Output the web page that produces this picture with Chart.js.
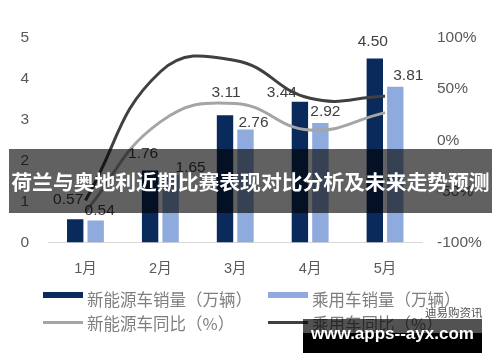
<!DOCTYPE html>
<html>
<head>
<meta charset="utf-8">
<script src="https://cdn.jsdelivr.net/npm/chart.js@4/dist/chart.umd.min.js"></script>
<style>
  html, body { margin: 0; padding: 0; background: #fff; }
  #wrap { position: relative; width: 500px; height: 362px; overflow: hidden; font-family: 'Noto Sans CJK SC', sans-serif; }
  #chart { position: absolute; left: 0; top: 0; }
  .lg { position: absolute; color: #7f7f7f; font-size: 16.5px; line-height: 18px; white-space: nowrap; }
  .mk { position: absolute; }
  #banner { position: absolute; left: 9px; top: 149px; width: 483px; height: 64px; background: rgba(0,0,0,0.62);
            color: #fff; font-weight: bold; font-size: 20.8px; line-height: 64px; text-align: center; white-space: nowrap; }
  #wm1 { position: absolute; left: 303px; top: 319px; width: 179px; height: 14px; background: rgba(0,0,0,0.68); }
  #wm2 { position: absolute; left: 303px; top: 333px; width: 179px; height: 20px; background: #000; }
  #wmt { position: absolute; left: 303px; top: 324px; width: 179px; text-align: center; color: #fff;
         font: bold 17px 'Liberation Sans', sans-serif; line-height: 20px; }
  #src { position: absolute; left: 425px; top: 306px; color: #555; font-size: 11.5px; line-height: 13px; }
</style>
</head>
<body>
<div id="wrap">
  <canvas id="chart" width="500" height="362"></canvas>

  <div class="mk" style="left:43px;top:292px;width:40px;height:6px;background:#0b2a5c"></div>
  <div class="lg" style="left:87px;top:290px">新能源车销量（万辆）</div>
  <div class="mk" style="left:268px;top:292px;width:40px;height:6px;background:#8faadc"></div>
  <div class="lg" style="left:312px;top:290px">乘用车销量（万辆）</div>
  <div class="mk" style="left:43px;top:321px;width:40px;height:3px;background:#a5a5a5"></div>
  <div class="lg" style="left:87px;top:314px">新能源车同比（%）</div>
  <div class="mk" style="left:268px;top:321px;width:40px;height:3px;background:#404040"></div>
  <div class="lg" style="left:312px;top:314px">乘用车同比（%）</div>

  <div id="src">迪易购资讯</div>
  <div id="wm1"></div>
  <div id="wm2"></div>
  <div id="wmt">www.apps--ayx.com</div>

  <div id="banner">荷兰与奥地利近期比赛表现对比分析及未来走势预测</div>
</div>
<script>
// data
const months = ['1月', '2月', '3月', '4月', '5月'];
const nevSales = [0.57, 1.76, 3.11, 3.44, 4.50];
const carSales = [0.54, 1.65, 2.76, 2.92, 3.81];
const nevYoY = [-70, 18, 36, 10, 27];
const carYoY = [-59, 67, 78, 41, 43];

// label nudges (px) so labels sit where the original put them
const nevLabelShift = [[-7, -19], [-7, -17], [1, -23], [-18, -9], [-2, -17]];
const carLabelShift = [[4, -10], [20, -7], [8, -7], [5, -11], [13, -11]];

Chart.defaults.font.family = "'Liberation Sans', 'Noto Sans CJK SC', sans-serif";
Chart.defaults.color = '#595959';

const barLabels = {
  id: 'barLabels',
  afterDatasetsDraw(chart) {
    const ctx = chart.ctx;
    ctx.save();
    ctx.font = "15.5px 'Liberation Sans', sans-serif";
    ctx.fillStyle = '#404040';
    ctx.textAlign = 'center';
    ctx.textBaseline = 'middle';
    [[2, nevSales, nevLabelShift], [3, carSales, carLabelShift]].forEach(([idx, vals, shift]) => {
      chart.getDatasetMeta(idx).data.forEach((bar, i) => {
        ctx.fillText(vals[i].toFixed(2), bar.x + shift[i][0], bar.y + shift[i][1]);
      });
    });
    ctx.restore();
  }
};

new Chart(document.getElementById('chart'), {
  type: 'bar',
  data: {
    labels: months,
    datasets: [
      { type: 'line', label: '乘用车同比（%）', data: carYoY, yAxisID: 'y1', borderColor: '#404040',
        borderWidth: 3, pointRadius: 0, tension: 0.45, fill: false, order: 0 },
      { type: 'line', label: '新能源车同比（%）', data: nevYoY, yAxisID: 'y1', borderColor: '#a5a5a5',
        borderWidth: 3, pointRadius: 0, tension: 0.45, fill: false, order: 0 },
      { label: '新能源车销量（万辆）', data: nevSales, backgroundColor: '#0b2a5c', yAxisID: 'y', order: 1,
        categoryPercentage: 0.547, barPercentage: 0.8 },
      { label: '乘用车销量（万辆）', data: carSales, backgroundColor: '#8faadc', yAxisID: 'y', order: 1,
        categoryPercentage: 0.547, barPercentage: 0.8 }
    ]
  },
  options: {
    responsive: false,
    animation: false,
    layout: { padding: { top: 38, bottom: 79.5, left: 0, right: 0 } },
    plugins: { legend: { display: false }, tooltip: { enabled: false } },
    scales: {
      x: {
        grid: { display: false, drawTicks: false },
        border: { display: true, color: '#d9d9d9', width: 1 },
        ticks: { padding: 18, font: { size: 14.5 }, color: '#595959' },
        afterFit(s) { s.height = 40; }
      },
      y: {
        position: 'left', min: 0, max: 5,
        grid: { display: false, drawTicks: false },
        border: { display: false },
        ticks: { stepSize: 1, padding: 19, font: { size: 15.5 }, color: '#595959' },
        afterFit(s) { s.width = 48; }
      },
      y1: {
        position: 'right', min: -100, max: 100,
        grid: { display: false, drawTicks: false },
        border: { display: false },
        ticks: { stepSize: 50, padding: 14.5, font: { size: 15.5 }, color: '#595959', callback: v => v + '%' },
        afterFit(s) { s.width = 77.5; }
      }
    }
  },
  plugins: [barLabels]
});
</script>
</body>
</html>
